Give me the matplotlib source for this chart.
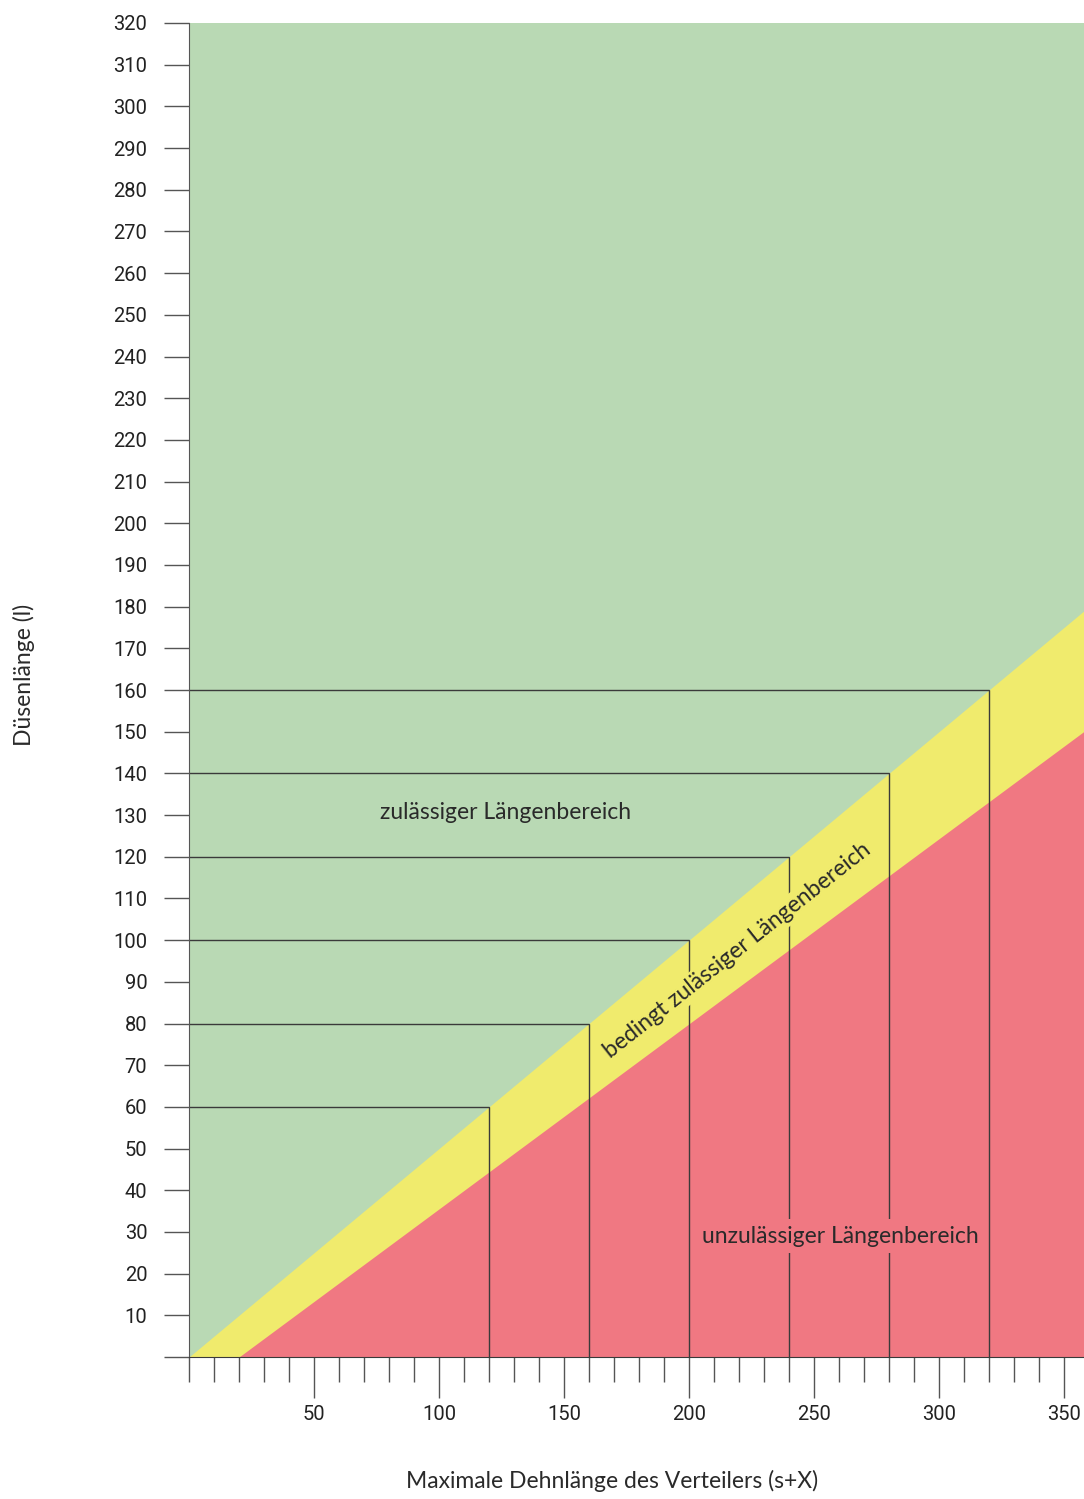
import matplotlib
matplotlib.use("Agg")
import matplotlib.pyplot as plt
import numpy as np

# ----------------------------------------------------------------------------
# Data
# ----------------------------------------------------------------------------
x_max = 358            # right edge of the plotted range (s+X)
y_max = 320            # top of the Düsenlänge axis
red_start = 20         # red region starts at s+X = 20
red_slope = 0.444      # slope of yellow/red boundary
green_slope = 0.5      # slope of green/yellow boundary (l = (s+X)/2)

example_x = [120, 160, 200, 240, 280, 320]
example_y = [60, 80, 100, 120, 140, 160]

y_ticks = list(range(0, 321, 10))
y_labels = [""] + [str(v) for v in range(10, 321, 10)]
x_minor = list(range(0, 351, 10))
x_major = [50, 100, 150, 200, 250, 300, 350]

GREEN = "#b9d9b4"
YELLOW = "#f0eb6d"
RED = "#f07882"
LINE = "#3a3a3a"
TICK = "#555555"
TEXT = "#2a2a2a"

label_font = ["Lato", "Open Sans", "DejaVu Sans"]
tick_font = ["Roboto", "DejaVu Sans"]

# ----------------------------------------------------------------------------
# Figure
# ----------------------------------------------------------------------------
fig = plt.figure(figsize=(10.84, 14.99), dpi=100)
ax = fig.add_axes([189 / 1084, 142 / 1499, 1 - 189 / 1084, 1334 / 1499])
ax.set_xlim(0, x_max)
ax.set_ylim(0, y_max)

xs = np.array([0, x_max])
# green background
ax.fill_between([0, x_max], 0, y_max, color=GREEN, lw=0, zorder=0)
# yellow band (everything below l = x/2)
ax.fill_between(xs, 0, green_slope * xs, color=YELLOW, lw=0, zorder=1)
# red region
xr = np.array([red_start, x_max])
ax.fill_between(xr, 0, red_slope * (xr - red_start), color=RED, lw=0, zorder=2)

# guide lines
for vx, vy in zip(example_x, example_y):
    ax.plot([0, vx, vx], [vy, vy, 0], color=LINE, lw=1.0, zorder=3,
            solid_joinstyle="miter")

# region labels
ax.text(126.5, 130.5, "zulässiger Längenbereich", ha="center", va="center",
        fontsize=16.5, family=label_font, color=TEXT, zorder=5)
ax.text(260.5, 29, "unzulässiger Längenbereich", ha="center", va="center",
        fontsize=16.5, family=label_font, color=TEXT,
        zorder=5, bbox=dict(facecolor=RED, edgecolor="none", pad=5))
ax.text(219.5, 97.5, "bedingt zulässiger Längenbereich", ha="center",
        va="center", rotation=38.3, rotation_mode="anchor", fontsize=16.5,
        family=label_font, color=TEXT, zorder=5,
        bbox=dict(facecolor=YELLOW, edgecolor="none", pad=2))

# axes styling
for side in ("top", "right"):
    ax.spines[side].set_visible(False)
ax.spines["left"].set_color(TICK)
ax.spines["bottom"].set_color(LINE)
ax.spines["left"].set_zorder(4)
ax.spines["bottom"].set_zorder(4)

ax.set_yticks(y_ticks)
ax.set_yticklabels(y_labels, family=tick_font, fontsize=14.5, color="#222222")
ax.tick_params(axis="y", direction="out", length=18, width=1.0, color=TICK,
               pad=12)

ax.set_xticks(x_major)
ax.set_xticklabels([str(v) for v in x_major], family=tick_font, fontsize=14.5,
                   color="#222222")
ax.set_xticks(x_minor, minor=True)
ax.tick_params(axis="x", which="major", direction="out", length=29.5,
               width=1.0, color=TICK, pad=5)
ax.tick_params(axis="x", which="minor", direction="out", length=18,
               width=1.0, color=TICK)

fig.text(612 / 1084, 1 - 1481 / 1499, "Maximale Dehnlänge des Verteilers (s+X)",
         ha="center", va="center", fontsize=16.5, family=label_font,
         color=TEXT)
fig.text(24 / 1084, 1 - 675 / 1499, "Düsenlänge (l)", ha="center",
         va="center", rotation=90, fontsize=16.5, family=label_font,
         color=TEXT)

fig.savefig("out.png", dpi=100)
